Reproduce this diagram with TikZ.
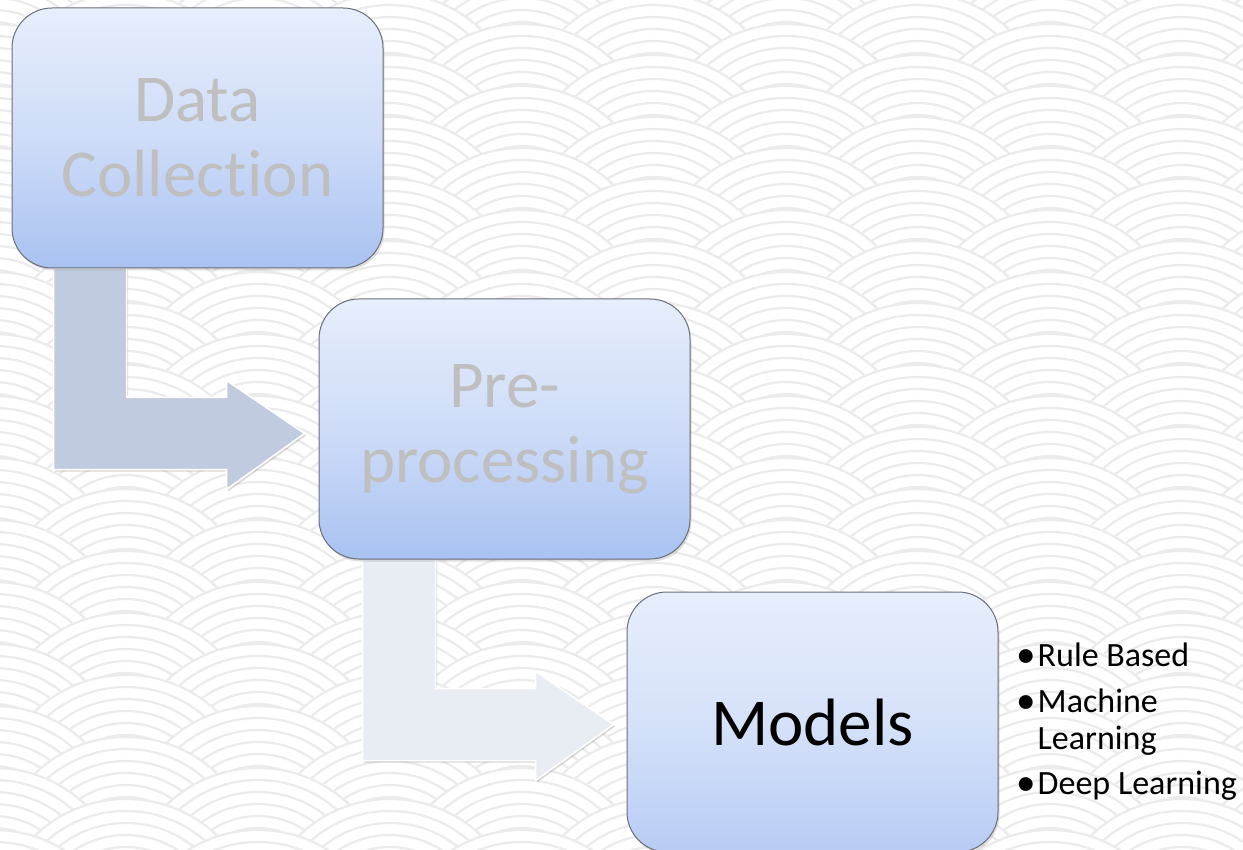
\documentclass[tikz,border=0pt]{standalone}
\usepackage{fontspec}
\usepackage{graphicx}
\setmainfont{Carlito}[Ligatures=NoCommon]
\usetikzlibrary{calc,shadows}

\definecolor{boxtop}{HTML}{E7EEFC}
\definecolor{boxmid}{HTML}{CEDCF8}
\definecolor{boxbot}{HTML}{A9C2F1}
\definecolor{boxbotlight}{HTML}{B7CCF4}
\definecolor{boxline}{HTML}{6A6F78}
\definecolor{stepA}{HTML}{C0CBE0}
\definecolor{stepB}{HTML}{E8ECF3}
\definecolor{wave}{HTML}{EBEBEB}
\definecolor{labelgray}{HTML}{BFBFBF}

\pgfdeclarelayer{pattern}
\pgfdeclarelayer{arrows}
\pgfsetlayers{pattern,arrows,main}

% bullet cell of fixed width, so every item text starts at the same place
\newcommand\listdot{\makebox[22pt][l]{\hspace{0.5pt}\raisebox{-1.2pt}{\scalebox{1.15}{•}}}}

\begin{document}
\begin{tikzpicture}[x=1pt,y=-1pt,
  stage/.style={rectangle, rounded corners=40pt, minimum width=371pt,
    minimum height=260pt, inner sep=0pt, draw=boxline, line width=1pt,
    top color=boxtop, bottom color=boxbot, middle color=boxmid,
    align=center, font=\fontsize{67}{75}\selectfont,
    drop shadow={shadow xshift=1.5pt, shadow yshift=-2.5pt, opacity=0.25}},
  bent/.style={draw=white, line width=1.5pt, line join=miter,
    drop shadow={shadow xshift=1.5pt, shadow yshift=-2pt, opacity=0.3}},
  waveline/.style={draw=wave, line width=2.2pt},
]
\useasboundingbox (0,0) rectangle (1243,850);

% the three stages
\node[stage, text=labelgray] (b1) at (197.5,138) {Data\\Collection};
\node[stage, text=labelgray] (b2) at (504.5,429) {Pre-\\processing};
\node[stage, text=black, bottom color=boxbotlight, middle color=boxmid!70!boxtop]
  (b3) at (812.5,722) {Models};

% list of model families
\node[anchor=base west, inner sep=0pt, font=\fontsize{34}{37}\selectfont]
  (list) at ($(b3.east)+(17,-56)$) {%
  \begin{tabular}[t]{@{}l@{}l@{}}
    \listdot & Rule Based\\[9pt]
    \listdot & Machine\\
    \makebox[22pt]{} & Learning\\[8pt]
    \listdot & Deep Learning
  \end{tabular}};

% bent arrows between the stages
\begin{pgfonlayer}{arrows}
\path[bent, fill=stepA] ($(b1.south west)+(42,0)$) -- ++(73,0) -- ++(0,129)
  -- ++(100,0) -- ++(0,-17) -- ++(78,53) -- ++(-78,56) -- ++(0,-20)
  -- ++(-173,0) -- cycle;
\path[bent, fill=stepB] ($(b2.south west)+(44,0)$) -- ++(73,0) -- ++(0,129)
  -- ++(100,0) -- ++(0,-17) -- ++(78,53) -- ++(-78,56) -- ++(0,-20)
  -- ++(-173,0) -- cycle;
\end{pgfonlayer}

% seigaiha wave background
\begin{pgfonlayer}{pattern}
\fill[white] (0,0) rectangle (1243,850);
\begin{scope}
  \clip (0,0) rectangle (1243,850);
  \foreach \j in {0,...,33}{
    \pgfmathsetmacro\cy{-30+31*\j}
    \pgfmathsetmacro\sh{mod(\j,2)*132}
    \foreach \i in {-1,...,5}{
      \pgfmathsetmacro\cx{-6+264*\i+\sh}
      \fill[white] (\cx,\cy) circle[radius=132pt];
      \foreach \r in {132,120,...,60}
        \draw[waveline] (\cx,\cy) circle[radius=\r pt];
    }
  }
\end{scope}
\end{pgfonlayer}
\end{tikzpicture}
\end{document}
